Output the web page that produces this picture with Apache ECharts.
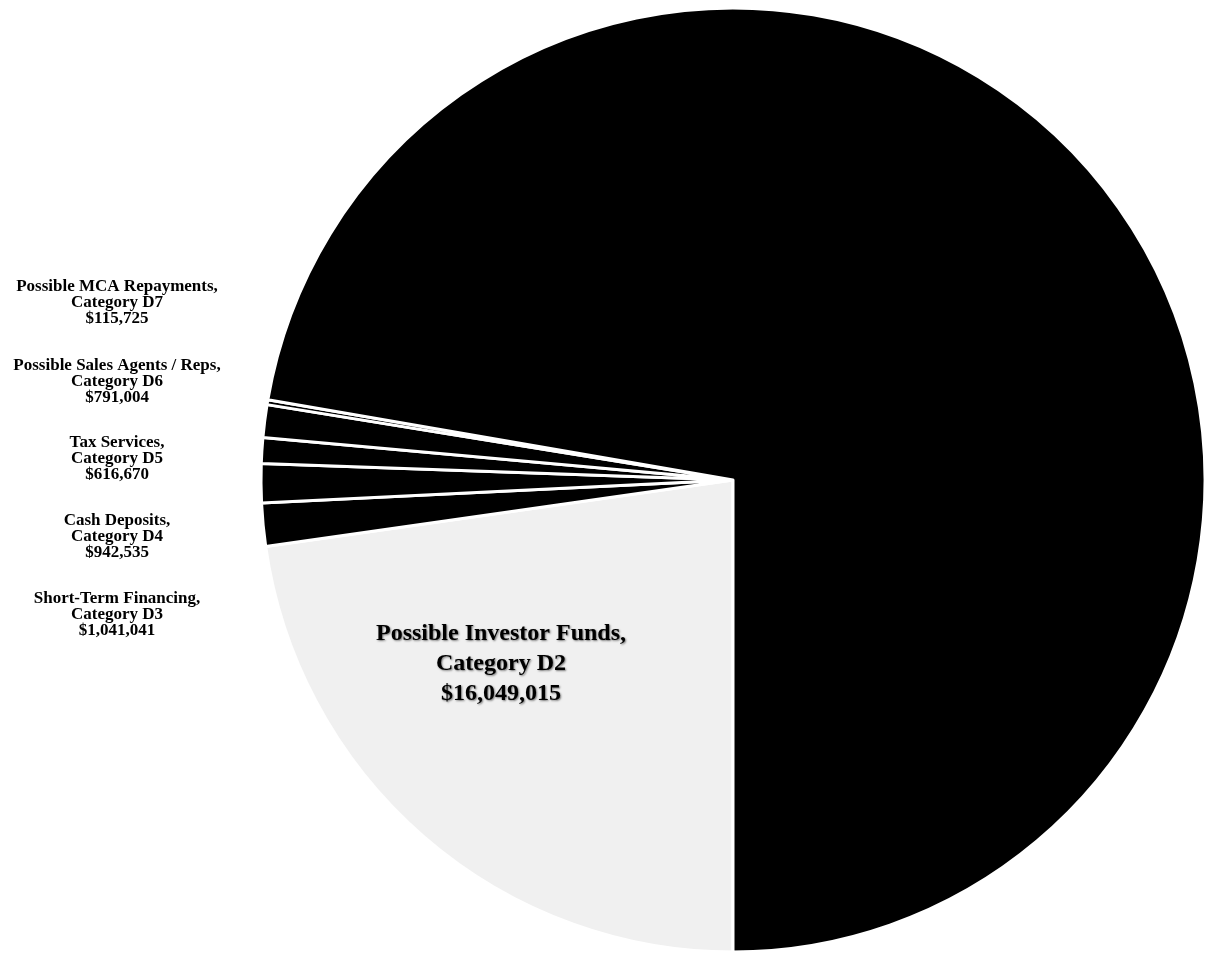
<!DOCTYPE html>
<html>
<head>
<meta charset="utf-8">
<script src="https://cdn.jsdelivr.net/npm/echarts@6/dist/echarts.min.js"></script>
<style>
html,body{margin:0;padding:0;background:#fff;}
#chart{width:1210px;height:955px;}
</style>
</head>
<body>
<div id="chart"></div>
<script>
// Categories (clockwise from the bottom of the pie)
var categories = ['Category D2', 'Category D3', 'Category D4', 'Category D5', 'Category D6', 'Category D7', 'Category D1'];
var names = ['Possible Investor Funds,', 'Short-Term Financing,', 'Cash Deposits,', 'Tax Services,', 'Possible Sales Agents / Reps,', 'Possible MCA Repayments,', ''];
var values = [16049015, 1041041, 942535, 616670, 791004, 115725, 51000000]; // D1 unlabeled, estimated
var valueLabels = ['$16,049,015', '$1,041,041', '$942,535', '$616,670', '$791,004', '$115,725', ''];

var FONT = "'Liberation Serif', 'Times New Roman', serif";
var sliceColors = ['#f0f0f0', '#000000', '#000000', '#000000', '#000000', '#000000', '#000000'];
var labelPos = [
  [501, 664], [117, 615], [117, 537], [117, 459], [117, 382], [117, 303], [0, 0]
];

var data = categories.map(function (c, i) {
  var isMain = i === 0;
  return {
    name: c,
    value: values[i],
    itemStyle: { color: sliceColors[i] },
    label: {
      show: i !== 6,
      formatter: names[i] + '\n' + c + '\n' + valueLabels[i],
      fontFamily: FONT,
      fontWeight: 'bold',
      fontSize: isMain ? 24 : 17,
      lineHeight: isMain ? 30 : 16,
      color: '#000',
      align: 'center',
      textShadowColor: isMain ? 'rgba(0,0,0,0.5)' : 'transparent',
      textShadowBlur: isMain ? 2 : 0,
      textShadowOffsetX: isMain ? 1 : 0,
      textShadowOffsetY: isMain ? 1 : 0
    }
  };
});

var chart = echarts.init(document.getElementById('chart'), null, { renderer: 'canvas' });
chart.setOption({
  backgroundColor: '#ffffff',
  animation: false,
  series: [{
    type: 'pie',
    center: [733, 480],
    radius: 472,
    startAngle: -90,
    clockwise: true,
    avoidLabelOverlap: false,
    itemStyle: { borderColor: '#ffffff', borderWidth: 3 },
    label: { position: 'outside' },
    labelLine: { show: false },
    labelLayout: function (p) {
      var pos = labelPos[p.dataIndex];
      return { x: pos[0], y: pos[1], align: 'center', verticalAlign: 'middle' };
    },
    emphasis: { disabled: true },
    data: data
  }]
});
</script>
</body>
</html>
